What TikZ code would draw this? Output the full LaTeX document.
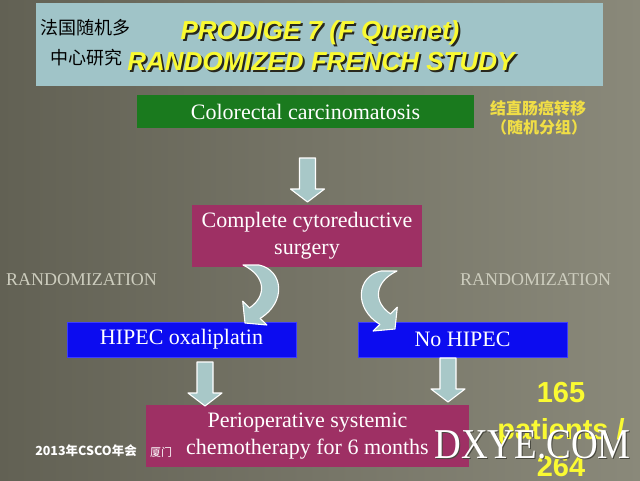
\documentclass[tikz,border=0pt]{standalone}
\usepackage{fontspec}
\setmainfont{Liberation Serif}
\newfontfamily\arialf{Liberation Sans}
\newfontfamily\cjk{Noto Sans CJK SC}
\definecolor{bgl}{RGB}{98,97,84}
\definecolor{bgr}{RGB}{138,137,122}
\definecolor{titlebg}{RGB}{160,196,200}
\definecolor{boxgreen}{RGB}{26,122,30}
\definecolor{boxpink}{RGB}{158,48,100}
\definecolor{boxblue}{RGB}{12,12,240}
\definecolor{arrfill}{RGB}{168,200,200}
\definecolor{ttlyellow}{RGB}{250,250,50}
\definecolor{cnyellow}{RGB}{240,222,70}
\definecolor{randgray}{RGB}{205,205,190}
\tikzset{
  boxbase/.style={inner sep=0pt, align=center, text=white, font=\fontsize{22}{27}\selectfont},
  greenbox/.style={boxbase, fill=boxgreen},
  pinkbox/.style={boxbase, fill=boxpink},
  bluebox/.style={boxbase, fill=boxblue, draw={rgb,255:red,60;green,60;blue,255}, line width=0.8pt},
  arrshape/.style={fill=arrfill, draw=white, line width=1.1pt, line join=round},
  ttltext/.style={font=\arialf\bfseries\itshape\fontsize{26}{30}\selectfont, inner sep=0pt},
  randtext/.style={text=randgray, font=\fontsize{18}{20}\selectfont, inner sep=0pt},
  cntitle/.style={font=\cjk\fontsize{18}{20}\selectfont, inner sep=0pt, text=black},
  cnyel/.style={font=\cjk\bfseries\fontsize{16}{18}\selectfont, inner sep=0pt, text=cnyellow},
  patients/.style={font=\arialf\bfseries\fontsize{29}{37}\selectfont, text=ttlyellow, align=center, inner sep=0pt},
  downarr/.pic={\path[arrshape] (-8,0) -- (8,0) -- (8,31) -- (17,31) -- (0,44) -- (-17,31) -- (-8,31) -- cycle;}
}
\begin{document}
\begin{tikzpicture}[x=1pt,y=-1pt]
\useasboundingbox (0,0) rectangle (640,480);
\shade[left color=bgl, right color=bgr] (0,0) rectangle (640,480);
% title
\node[fill=titlebg, minimum width=567pt, minimum height=83pt, inner sep=0pt] (title) at (319.5,44.5) {};
\node[ttltext, text={rgb,255:red,40;green,40;blue,30}] at (322,35) {PRODIGE 7 (F Quenet)};
\node[ttltext, text=ttlyellow] (t1) at (320,33) {PRODIGE 7 (F Quenet)};
\node[ttltext, text={rgb,255:red,40;green,40;blue,30}] at (323,64) {RANDOMIZED FRENCH STUDY};
\node[ttltext, text=ttlyellow] (t2) at (321,62) {RANDOMIZED FRENCH STUDY};
\node[cntitle] (cn1) at (85,28) {法国随机多};
\node[cntitle] (cn2) at (86,58) {中心研究};
% boxes
\node[greenbox, minimum width=337pt, minimum height=33pt] (crc) at (305.5,111.5) {Colorectal carcinomatosis};
\node[cnyel] (cny1) at (538,108) {结直肠癌转移};
\node[cnyel] (cny2) at (539,127) {（随机分组）};
\node[pinkbox, minimum width=230pt, minimum height=62pt] (ccs) at (307,236) {Complete cytoreductive\\surgery};
\node[randtext] (rl) at (81.5,280) {RANDOMIZATION};
\node[randtext] (rr) at (535.5,280) {RANDOMIZATION};
\node[bluebox, minimum width=229pt, minimum height=35pt] (hipec) at (181.5,339.5) {HIPEC oxaliplatin};
\node[bluebox, minimum width=209pt, minimum height=35pt] (nohipec) at (462.5,339.5) {No HIPEC};
\node[pinkbox, minimum width=323pt, minimum height=62pt] (chemo) at (307.5,436) {Perioperative systemic\\chemotherapy for 6 months};
% straight block arrows
\pic at (307.5,158) {downarr};
\pic at (205,362) {downarr};
\pic at (448,358) {downarr};
% curved arrows
\path[arrshape] (243,265) -- (259,265) .. controls (283,270) and (287,302) .. (260.1,318.4)
  -- (266.9,325) -- (245,323) -- (242.7,301.2) -- (249.5,307.9)
  .. controls (267,296) and (266,276) .. (243,265) -- cycle;
\begin{scope}[shift={(640,6)}, xscale=-1]
\path[arrshape] (243,265) -- (259,265) .. controls (283,270) and (287,302) .. (260.1,318.4)
  -- (266.9,325) -- (245,323) -- (242.7,301.2) -- (249.5,307.9)
  .. controls (267,296) and (266,276) .. (243,265) -- cycle;
\end{scope}
% footer labels
\node[font=\cjk\bfseries\fontsize{12.5}{14}\selectfont, text=white, inner sep=0pt] (csco) at (86,451) {2013年CSCO年会};
\node[font=\cjk\fontsize{11}{13}\selectfont, text=white, inner sep=0pt] (xm) at (161,452) {厦门};
\node[patients] (pts) at (561,430) {165\\patients /\\264};
% watermark
\node[font=\fontsize{37}{40}\selectfont, text={rgb,255:red,70;green,70;blue,60}, inner sep=0pt, yscale=1.15] at (533.5,445.5) {DXYE.COM};
\node[font=\fontsize{37}{40}\selectfont, text=white, inner sep=0pt, yscale=1.15] (wm) at (532.5,444.5) {DXYE.COM};
\end{tikzpicture}
\end{document}
